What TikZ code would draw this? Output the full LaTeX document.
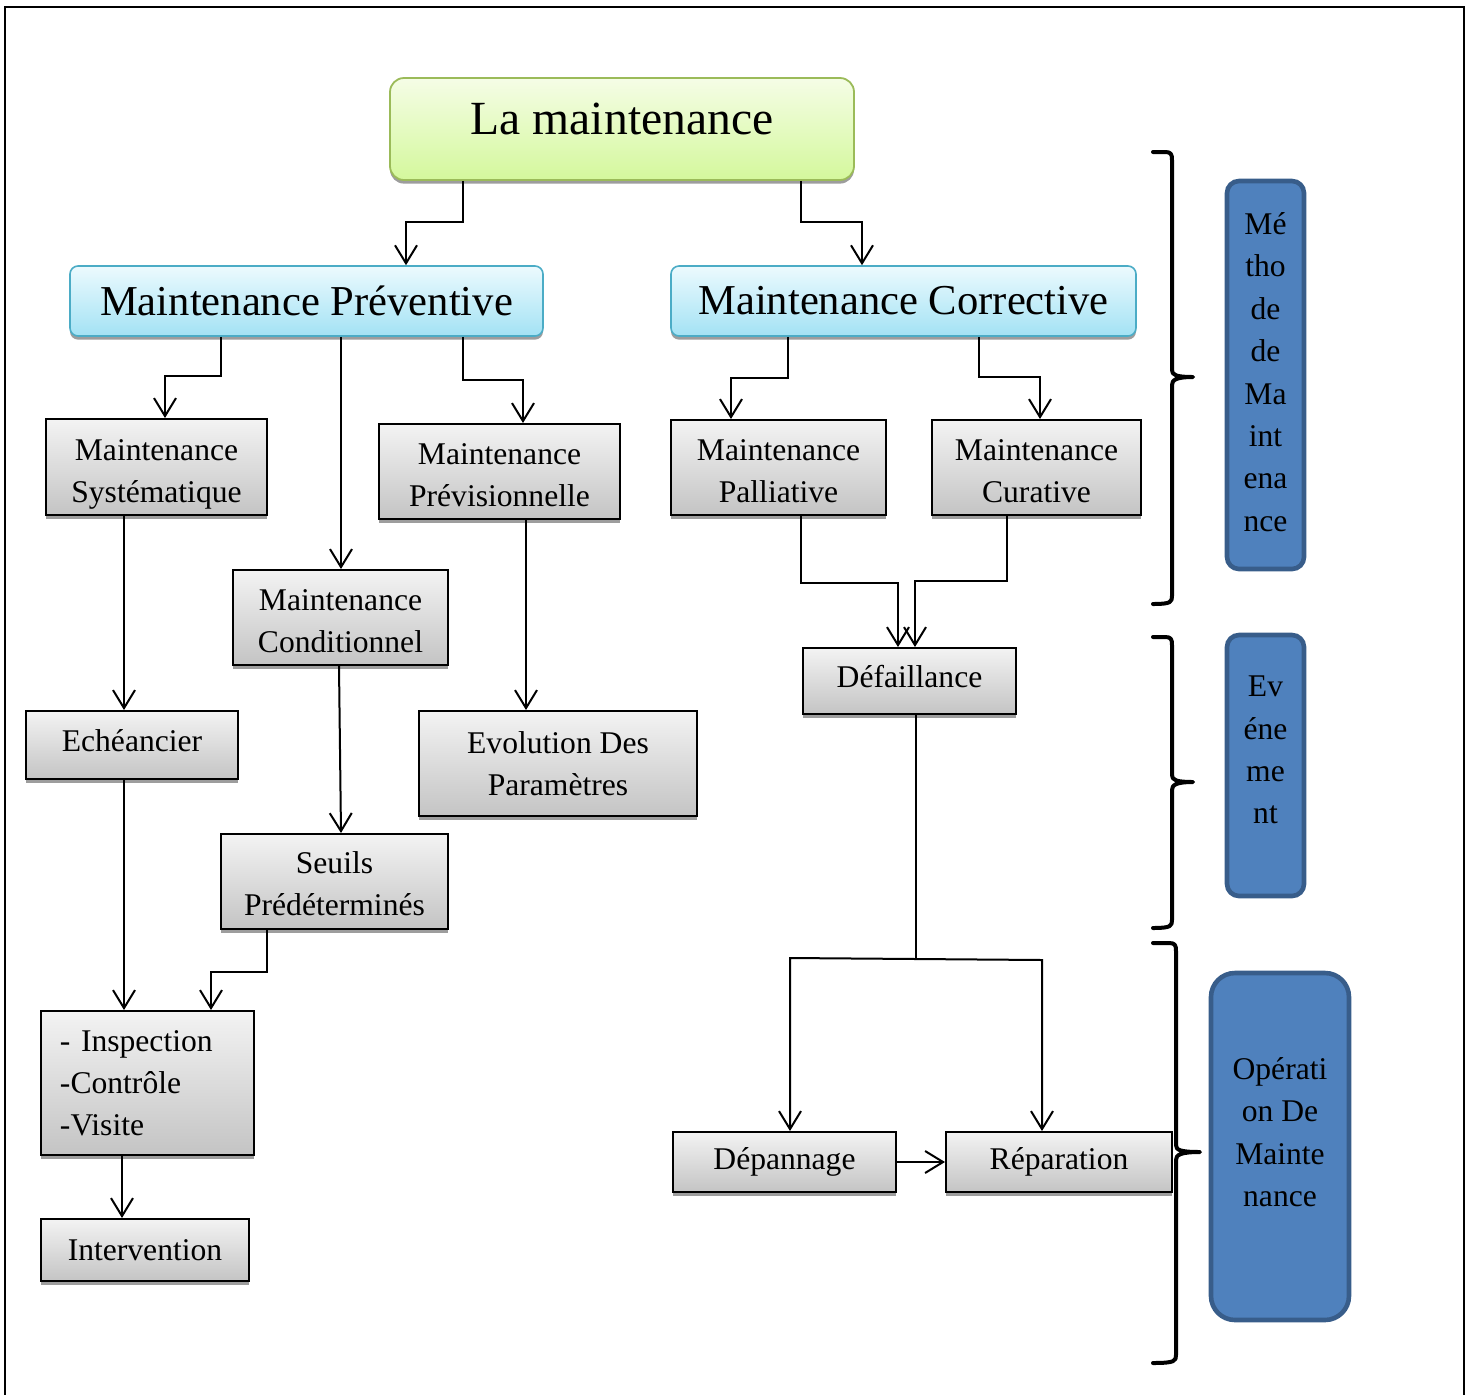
\documentclass[tikz,border=0pt]{standalone}
\usepackage{fontspec}
\setmainfont{Liberation Serif}
\usetikzlibrary{arrows.meta,shadows}
\definecolor{grayTop}{HTML}{F3F3F3}
\definecolor{grayBot}{HTML}{C4C4C4}
\definecolor{cyanTop}{HTML}{ECFAFE}
\definecolor{cyanBot}{HTML}{A3E2F4}
\definecolor{cyanLine}{HTML}{4BACC6}
\definecolor{greenTop}{HTML}{F5FDE6}
\definecolor{greenBot}{HTML}{D4F89C}
\definecolor{greenLine}{HTML}{9BBB59}
\definecolor{blueFill}{HTML}{4F81BD}
\definecolor{blueLine}{HTML}{385D8A}
\tikzset{
  shad/.style={drop shadow={shadow xshift=0pt,shadow yshift=-1.8pt,fill=black!55,opacity=0.7}},
  graybox/.style={shad,draw=black,line width=1pt,top color=grayTop,bottom color=grayBot,
     inner sep=0pt,align=center,font=\fontsize{15.8pt}{21pt}\selectfont},
  twoline/.style={text height=35pt,text depth=0pt},
  cyanbox/.style={shad,draw=cyanLine,line width=0.8pt,rounded corners=4pt,top color=cyanTop,bottom color=cyanBot,
     inner sep=0pt,align=center,font=\fontsize{21.3pt}{25pt}\selectfont},
  greenbox/.style={shad,draw=greenLine,line width=0.9pt,rounded corners=7pt,top color=greenTop,bottom color=greenBot,
     inner sep=0pt,align=center,font=\fontsize{23.8pt}{28pt}\selectfont},
  bluebox/.style={draw=blueLine,line width=2.3pt,fill=blueFill,inner sep=0pt},
  bluetext/.style={align=center,inner sep=0pt,font=\fontsize{15.8pt}{21.2pt}\selectfont},
  arr/.style={line width=1pt,-{Straight Barb[length=9pt,width=11pt,line width=1pt]}},
  conn/.style={line width=1pt},
  bracestyle/.style={line width=2pt,line cap=round,line join=round},
}
\begin{document}
\begin{tikzpicture}[x=0.5pt,y=-0.5pt]
\useasboundingbox (0,0) rectangle (1469,1394);
\draw[line width=1.2pt] (5,1396) -- (5,7) -- (1464,7) -- (1464,1396);

% nodes
\node[greenbox,minimum width=232pt,minimum height=51pt,text depth=10pt] (top) at (622,129) {La maintenance};
\node[cyanbox,minimum width=236.5pt,minimum height=35pt] (mp) at (306.5,301) {Maintenance Préventive};
\node[cyanbox,minimum width=232.5pt,minimum height=35pt] (mc) at (903.5,301) {Maintenance Corrective};

\node[graybox,twoline,minimum width=110.5pt,minimum height=48pt] (msys) at (156.5,467) {Maintenance\\Systématique};
\node[graybox,twoline,minimum width=120.5pt,minimum height=47.5pt] (mprev) at (499.5,471.5) {Maintenance\\Prévisionnelle};
\node[graybox,twoline,minimum width=107.5pt,minimum height=47.5pt] (mcond) at (340.5,617.5) {Maintenance\\Conditionnel};
\node[graybox,minimum width=106pt,minimum height=34pt,text depth=4pt] (ech) at (132,745) {Echéancier};
\node[graybox,minimum width=139pt,minimum height=52.5pt] (evol) at (558,763.5) {Evolution Des\\Paramètres};
\node[graybox,twoline,text height=34pt,minimum width=113.5pt,minimum height=47.5pt] (seuils) at (334.5,881.5) {Seuils\\Prédéterminés};
\node[graybox,minimum width=106.5pt,minimum height=72pt,align=left,text width=87.5pt,inner xsep=9.5pt] (insp) at (147.5,1083) {- Inspection\\-Contrôle\\-Visite};
\node[graybox,minimum width=104pt,minimum height=31pt] (interv) at (145,1250) {Intervention};
\node[graybox,twoline,minimum width=107.5pt,minimum height=47.5pt] (mpall) at (778.5,467.5) {Maintenance\\Palliative};
\node[graybox,twoline,minimum width=104.5pt,minimum height=47.5pt] (mcur) at (1036.5,467.5) {Maintenance\\Curative};
\node[graybox,minimum width=106.5pt,minimum height=33pt,text depth=5pt] (def) at (909.5,681) {Défaillance};
\node[graybox,minimum width=111.5pt,minimum height=30pt] (dep) at (784.5,1162) {Dépannage};
\node[graybox,minimum width=113pt,minimum height=30pt] (rep) at (1059,1162) {Réparation};

% blue side boxes
\node[bluebox,rounded corners=6pt,minimum width=38.5pt,minimum height=194pt] (b1) at (1265.5,375) {};
\node[bluetext] (t1) at (1265.5,372) {Mé\\tho\\de\\de\\Ma\\int\\ena\\nce};
\node[bluebox,rounded corners=6pt,minimum width=38.5pt,minimum height=130.5pt] (b2) at (1265.5,765.5) {};
\node[bluetext] (t2) at (1265.5,750) {Ev\\éne\\me\\nt};
\node[bluebox,rounded corners=12pt,minimum width=69pt,minimum height=173.5pt] (b3) at (1280,1146.5) {};
\node[bluetext] (t3) at (1280,1132) {Opérati\\on De\\Mainte\\nance};

% braces
\draw[bracestyle] (1153,152) -- (1165,152) .. controls (1171,152) and (1172,154) .. (1172,160)
  -- (1172,370) .. controls (1172,375) and (1176,377) .. (1193,377)
  .. controls (1176,377) and (1172,380) .. (1172,385) -- (1172,596)
  .. controls (1172,602) and (1171,604) .. (1153,604);
\draw[bracestyle] (1153,637) -- (1165,637) .. controls (1171,637) and (1172,639) .. (1172,645)
  -- (1172,775) .. controls (1172,780) and (1176,782) .. (1193,782)
  .. controls (1176,782) and (1172,785) .. (1172,790) -- (1172,920)
  .. controls (1172,926) and (1171,928) .. (1153,928);
\draw[bracestyle] (1153,943) -- (1169,943) .. controls (1175,943) and (1176,945) .. (1176,951)
  -- (1176,1145) .. controls (1176,1150) and (1180,1152) .. (1200,1152)
  .. controls (1180,1152) and (1176,1155) .. (1176,1160) -- (1176,1355)
  .. controls (1176,1361) and (1175,1363) .. (1153,1363);

% connectors
\draw[arr] (top.south -| 463,0) -- (463,222) -- (406,222) -- (mp.north -| 406,0);
\draw[arr] (top.south -| 801,0) -- (801,222) -- (862,222) -- (mc.north -| 862,0);
\draw[arr] (mp.south -| 221,0) -- (221,376) -- (165,376) -- (msys.north -| 165,0);
\draw[arr] (mp.south -| 341,0) -- (mcond.north -| 341,0);
\draw[arr] (mp.south -| 463,0) -- (463,380) -- (523,380) -- (mprev.north -| 523,0);
\draw[arr] (msys.south -| 124,0) -- (ech.north -| 124,0);
\draw[arr] (mprev.south -| 526,0) -- (evol.north -| 526,0);
\draw[arr] (mcond.south -| 339,0) -- (seuils.north -| 341,0);
\draw[arr] (ech.south -| 124,0) -- (insp.north -| 124,0);
\draw[arr] (seuils.south -| 267,0) -- (267,972) -- (211,972) -- (insp.north -| 211,0);
\draw[arr] (insp.south -| 122,0) -- (interv.north -| 122,0);
\draw[arr] (mc.south -| 788,0) -- (788,378) -- (731,378) -- (mpall.north -| 731,0);
\draw[arr] (mc.south -| 979,0) -- (979,377) -- (1040,377) -- (mcur.north -| 1040,0);
\draw[arr] (mpall.south -| 801,0) -- (801,583) -- (898,583) -- (def.north -| 898,0);
\draw[arr] (mcur.south -| 1007,0) -- (1007,581) -- (915,581) -- (def.north -| 915,0);
\draw[conn,line width=1.4pt] (def.south -| 916,0) -- (916,959) coordinate (split);
\draw[arr] (split) -- (790,958) -- (dep.north -| 790,0);
\draw[arr] (split) -- (1042,960) -- (rep.north -| 1042,0);
\draw[arr] (dep) -- (rep);
\end{tikzpicture}
\end{document}
